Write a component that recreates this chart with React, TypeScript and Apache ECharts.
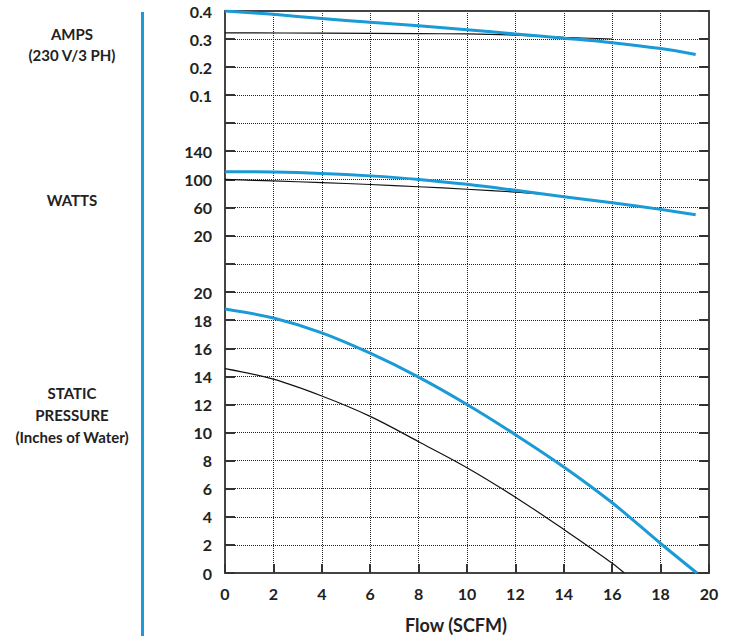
import React, { useEffect, useRef } from "react";
import * as echarts from "echarts";

// Flow (SCFM) vs. value pairs
const ampsBlue: [number, number][] = [
  [0, 0.4], [2, 0.388], [4, 0.373], [6, 0.36], [8, 0.347], [10, 0.333],
  [12, 0.318], [14, 0.303], [16, 0.287], [18, 0.266], [19.45, 0.245],
];
const ampsBlack: [number, number][] = [
  [0, 0.322], [4, 0.321], [8, 0.319], [10, 0.318], [12, 0.314], [14, 0.306], [16, 0.3],
];
const wattsBlue: [number, number][] = [
  [0, 111], [2, 110.5], [4, 108.5], [6, 105], [8, 100], [10, 93], [12, 84.5],
  [14, 75.5], [16, 67], [18, 57.5], [19.45, 50],
];
const wattsBlack: [number, number][] = [
  [0, 100], [2, 97.8], [4, 95.5], [6, 92.8], [8, 89.6], [10, 86], [12, 82], [13, 79.5],
];
const pressureBlue: [number, number][] = [
  [0, 18.8], [2, 18.15], [4, 17.1], [6, 15.65], [8, 13.95], [10, 12.0],
  [12, 9.85], [14, 7.55], [16, 5.0], [18, 2.1], [19.5, 0],
];
const pressureBlack: [number, number][] = [
  [0, 14.55], [2, 13.8], [4, 12.6], [6, 11.15], [8, 9.35], [10, 7.5],
  [12, 5.4], [14, 3.1], [16, 0.7], [16.5, 0],
];
const wattsTickLabels = [20, 60, 100, 140];

const BLUE = "#1a9ad6";
const INK = "#222";
const FRAME = "#444";
const FONT = "Lato";

export default function App() {
  const ref = useRef<HTMLDivElement>(null);
  useEffect(() => {
    if (!ref.current) return;
    const chart = echarts.init(ref.current, undefined, { renderer: "svg" });

    const split = { show: true, lineStyle: { type: [1, 1] as any, color: "#222", width: 1 } };
    const xBase = (gridIndex: number) => ({
      type: "value" as const, gridIndex, min: 0, max: 20, interval: 2,
      splitLine: split,
    });
    const yLeft = (gridIndex: number, min: number, max: number, interval: number, fmt: (v: number) => string) => ({
      type: "value" as const, gridIndex, min, max, interval, position: "left" as const,
      axisLine: { show: true, onZero: false, lineStyle: { color: FRAME, width: 2 } },
      axisTick: { show: true, inside: true, length: 10, lineStyle: { color: "#333", width: 2 } },
      axisLabel: { formatter: fmt, color: INK, fontFamily: FONT, fontWeight: "bold", fontSize: 16, margin: 13 },
      splitLine: split,
    });
    const yRight = (gridIndex: number, min: number, max: number, interval: number) => ({
      type: "value" as const, gridIndex, min, max, interval, position: "right" as const,
      axisLine: { show: true, onZero: false, lineStyle: { color: FRAME, width: 2 } },
      axisTick: { show: true, inside: true, length: 10, lineStyle: { color: "#333", width: 2 } },
      axisLabel: { show: false },
      splitLine: { show: false },
    });

    const line = (data: [number, number][], idx: number, blue: boolean) => ({
      type: "line" as const,
      data,
      xAxisIndex: idx,
      yAxisIndex: idx * 2,
      showSymbol: false,
      smooth: 0.35,
      lineStyle: { color: blue ? BLUE : "#111", width: blue ? 3 : 1.2 },
      z: blue ? 4 : 3,
    });

    chart.setOption({
      animation: false,
      backgroundColor: "#fff",
      grid: [
        { left: 225, right: 22, top: 11, height: 112 },
        { left: 225, right: 22, top: 123, height: 141 },
        { left: 225, right: 22, top: 264, height: 309 },
      ],
      xAxis: [
        {
          ...xBase(0), position: "top",
          axisLine: { show: true, onZero: false, lineStyle: { color: FRAME, width: 2 } },
          axisTick: { show: false }, axisLabel: { show: false },
        },
        {
          ...xBase(1),
          axisLine: { show: false, onZero: false }, axisTick: { show: false }, axisLabel: { show: false },
        },
        {
          ...xBase(2), position: "bottom",
          axisLine: { show: true, onZero: false, lineStyle: { color: FRAME, width: 2 } },
          axisTick: { show: true, inside: true, length: 9, lineStyle: { color: "#333", width: 2 } },
          axisLabel: { color: INK, fontFamily: FONT, fontWeight: "bold", fontSize: 16, margin: 12 },
        },
      ],
      yAxis: [
        yLeft(0, 0, 0.4, 0.1, (v) => (v === 0 ? "" : v.toFixed(1))),
        yRight(0, 0, 0.4, 0.1),
        yLeft(1, -20, 180, 40, (v) => (wattsTickLabels.includes(Math.round(v)) ? String(Math.round(v)) : "")),
        yRight(1, -20, 180, 40),
        yLeft(2, 0, 22, 2, (v) => (v > 20 ? "" : String(v))),
        yRight(2, 0, 22, 2),
      ],
      series: [
        line(ampsBlack, 0, false),
        line(ampsBlue, 0, true),
        line(wattsBlack, 1, false),
        line(wattsBlue, 1, true),
        line(pressureBlack, 2, false),
        line(pressureBlue, 2, true),
      ],
      graphic: [
        { type: "rect", shape: { x: 141, y: 12, width: 3, height: 624 }, style: { fill: BLUE } },
        ...[
          ["AMPS", 34], ["(230 V/3 PH)", 55], ["WATTS", 200],
          ["STATIC", 393], ["PRESSURE", 415], ["(Inches of Water)", 437],
        ].map(([t, y]) => ({
          type: "text", x: 72, y: y as number,
          style: {
            text: t as string, fill: INK, font: `bold 15px ${FONT}`,
            textAlign: "center", textVerticalAlign: "middle",
          },
        })),
        {
          type: "text", x: 456, y: 625,
          style: {
            text: "Flow (SCFM)", fill: INK, font: `bold 18px ${FONT}`,
            textAlign: "center", textVerticalAlign: "middle",
          },
        },
      ],
    });
    return () => chart.dispose();
  }, []);
  return (
    <div
      ref={ref}
      style={{ position: "fixed", left: 0, top: 0, width: 731, height: 639, background: "#fff" }}
    />
  );
}
